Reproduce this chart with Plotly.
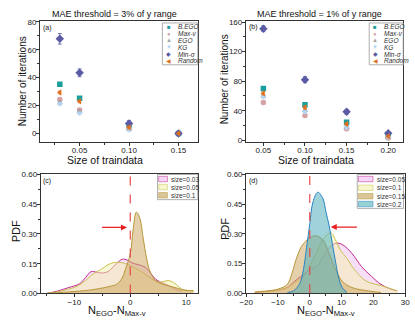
import plotly.graph_objects as go
from plotly.subplots import make_subplots

W, H = 415, 326
FONT = "Liberation Sans, Arial, sans-serif"

# ---- panel (a): MAE threshold = 3% of y range
size_a = [0.03, 0.05, 0.10, 0.15]
bego_a = [35.3, 25.3, 4.5, 0.0]
maxv_a = [24.3, 16.8, 3.5, 0.0]
ego_a = [22.0, 15.5, 3.0, 0.0]
kg_a = [21.1, 14.4, 2.5, 0.0]
minsig_a = [67.9, 43.5, 7.2, 0.0]
random_a = [29.4, 23.0, 4.3, 0.0]
err_a = [1.0, 1.0, 1.0, 0.0]
err_minsig_a = [3.8, 2.8, 2.0, 0.0]

# ---- panel (b): MAE threshold = 1% of y range
size_b = [0.05, 0.10, 0.15, 0.20]
bego_b = [70.0, 48.0, 24.5, 6.0]
maxv_b = [51.0, 33.5, 15.5, 3.0]
ego_b = [60.0, 40.0, 18.0, 4.0]
kg_b = [58.5, 38.5, 17.0, 4.0]
minsig_b = [151.0, 82.0, 38.5, 9.5]
random_b = [63.5, 44.5, 22.0, 5.5]
err_b = [2.0, 2.0, 1.5, 1.0]
err_minsig_b = [4.0, 4.0, 3.0, 1.5]

methods = ["B.EGO", "Max-v", "EGO", "KG", "Min-σ", "Random"]
colors = ["#1b9e9e", "#d6a2a6", "#a3a3a3", "#b5d5f5", "#5b5ba5", "#e0701e"]
symbols = ["square", "circle", "triangle-up", "triangle-down", "diamond", "triangle-left"]
glyphs = ["■", "●", "▲", "▼", "◆", "◀"]

# ---- panel (c): PDF of N_EGO - N_Max-v
c03_x = [-15, -13, -11, -10, -9, -8, -7, -6, -5, -4, -3, -2, -1.4, -0.5, 0.5, 1.5, 2.8, 3.7, 4.6, 6, 7, 8, 9.2]
c03_y = [0, 0.012, 0.03, 0.038, 0.05, 0.08, 0.11, 0.107, 0.103, 0.11, 0.135, 0.162, 0.173, 0.168, 0.152, 0.145, 0.13, 0.1, 0.07, 0.05, 0.038, 0.022, 0.01]
c05_x = [-15, -13, -11, -10, -9, -8, -7, -6, -5.3, -4, -3, -2, -1, 0, 1, 2, 3, 4.6, 5.5, 6.9, 8, 9.2, 10.3, 11.3]
c05_y = [0, 0.008, 0.022, 0.03, 0.045, 0.065, 0.09, 0.11, 0.12, 0.145, 0.155, 0.157, 0.152, 0.14, 0.125, 0.11, 0.09, 0.062, 0.058, 0.065, 0.05, 0.022, 0.015, 0.015]
c10_x = [-15, -13, -11, -9, -7, -5.5, -4.5, -3.5, -2.4, -1.5, -0.9, 0, 0.5, 1.1, 1.7, 2.3, 2.9, 3.4, 4, 4.6, 5.5, 6.9, 8, 9.2, 10.3, 11.3]
c10_y = [0, 0.004, 0.008, 0.012, 0.018, 0.025, 0.03, 0.037, 0.047, 0.075, 0.12, 0.2, 0.32, 0.41, 0.38, 0.28, 0.18, 0.12, 0.085, 0.062, 0.05, 0.038, 0.03, 0.02, 0.015, 0.013]

# ---- panel (d)
d05_x = [-17.3, -16.3, -10, -7.1, -4.1, -2, 0, 2.5, 4.1, 6.1, 8.2, 10.2, 13.3, 16.3, 19.4, 22.4, 25.5, 27.5]
d05_y = [0.003, 0.005, 0.015, 0.028, 0.069, 0.093, 0.118, 0.14, 0.18, 0.23, 0.252, 0.246, 0.2, 0.134, 0.085, 0.044, 0.02, 0.011]
d10_x = [-17.3, -16.3, -10, -7.1, -4.1, -2, 0, 2, 4.1, 6.6, 8.2, 9.7, 11.7, 14, 17.8, 22.9, 27.5]
d10_y = [0.003, 0.005, 0.015, 0.028, 0.061, 0.085, 0.134, 0.2, 0.27, 0.305, 0.265, 0.215, 0.175, 0.12, 0.06, 0.036, 0.011]
d15_x = [-17.3, -16.3, -10, -7.1, -5.6, -4, -2, 1.5, 4.1, 6.1, 8.2, 10.2, 13.3, 18.4, 22.4]
d15_y = [0.005, 0.007, 0.02, 0.044, 0.1, 0.185, 0.25, 0.29, 0.27, 0.2, 0.118, 0.06, 0.028, 0.011, 0.003]
d20_x = [-7, -5.1, -3.1, -2, -1, 0, 1, 2.5, 4.1, 5.1, 6.1, 7.1, 8.2, 9.2, 10.2, 11.7]
d20_y = [0.003, 0.011, 0.05, 0.118, 0.23, 0.35, 0.46, 0.51, 0.48, 0.41, 0.34, 0.25, 0.15, 0.07, 0.028, 0.003]

fig = make_subplots(rows=2, cols=2)


def px(x):
    return x / W


def py(y):
    return 1 - y / H


series_a = [bego_a, maxv_a, ego_a, kg_a, minsig_a, random_a]
series_b = [bego_b, maxv_b, ego_b, kg_b, minsig_b, random_b]
for i, name in enumerate(methods):
    ea = err_minsig_a if name == "Min-σ" else err_a
    eb = err_minsig_b if name == "Min-σ" else err_b
    for col, xs, ys, ee in [(1, size_a, series_a[i], ea), (2, size_b, series_b[i], eb)]:
        fig.add_trace(go.Scatter(
            x=xs, y=ys, mode="markers", name=name, showlegend=False,
            marker=dict(symbol=symbols[i], color=colors[i], size=5.5 if name != "Min-σ" else 6.5),
            error_y=dict(type="data", array=ee, color=colors[i], thickness=0.8, width=2)),
            row=1, col=col)

# density curves
kde_c = [("size=0.03", c03_x, c03_y, "#c0288c", "rgba(240,185,240,0.45)", "rgba(246,214,246,1)"),
         ("size=0.05", c05_x, c05_y, "#c8c050", "rgba(242,240,170,0.5)", "rgba(248,246,204,1)"),
         ("size=0.1", c10_x, c10_y, "#b8963a", "rgba(205,170,100,0.55)", "rgba(218,198,152,1)")]
kde_d = [("size=0.05", d05_x, d05_y, "#c0288c", "rgba(240,185,240,0.45)", "rgba(246,214,246,1)"),
         ("size=0.1", d10_x, d10_y, "#c8c050", "rgba(242,240,170,0.5)", "rgba(248,246,204,1)"),
         ("size=0.15", d15_x, d15_y, "#b8963a", "rgba(205,170,100,0.55)", "rgba(218,198,152,1)"),
         ("size=0.2", d20_x, d20_y, "#2a82c0", "rgba(80,175,185,0.55)", "rgba(150,210,212,1)")]
for col, kdes in [(1, kde_c), (2, kde_d)]:
    for name, xs, ys, lc, fc, sw in kdes:
        fig.add_trace(go.Scatter(
            x=xs, y=ys, mode="lines", name=name, showlegend=False,
            line=dict(color=lc, width=1, shape="spline", smoothing=1.0),
            fill="tozeroy", fillcolor=fc), row=2, col=col)

# domains (pixels -> paper)
doms = {
    "xaxis": (34, 197), "yaxis": (17, 141.7),
    "xaxis2": (246, 408), "yaxis2": (17, 141.7),
    "xaxis3": (34.7, 196.7), "yaxis3": (175.3, 297.7),
    "xaxis4": (246.3, 410), "yaxis4": (175.3, 297.3),
}
axis_common = dict(showline=True, mirror=True, linecolor="#333", linewidth=1,
                   ticks="outside", ticklen=3, tickwidth=1, tickcolor="#333",
                   showgrid=False, zeroline=False, ticklabelstandoff=-2,
                   tickfont=dict(size=8, family=FONT, color="#222"))
for k, (a, b) in doms.items():
    if k.startswith("x"):
        fig.layout[k].update(domain=[px(a), px(b)], **axis_common)
    else:
        fig.layout[k].update(domain=[py(b), py(a)], **axis_common)

minor = dict(ticks="outside", ticklen=2, tickcolor="#333")
fig.update_layout(
    xaxis=dict(range=[0.01, 0.17], dtick=0.05, tick0=0, tickformat=".2f", minor=dict(dtick=0.025, **minor)),
    yaxis=dict(range=[-6, 81], dtick=20, minor=dict(dtick=10, **minor)),
    xaxis2=dict(range=[0.029, 0.218], dtick=0.05, tick0=0, tickformat=".2f", minor=dict(dtick=0.025, **minor)),
    yaxis2=dict(range=[-2, 162], dtick=40, minor=dict(dtick=20, **minor)),
    xaxis3=dict(range=[-16, 12.1], dtick=10, tick0=0, minor=dict(dtick=5, **minor)),
    yaxis3=dict(range=[0, 0.6], dtick=0.15, tickformat=".2f", minor=dict(dtick=0.075, **minor)),
    xaxis4=dict(range=[-20, 30], dtick=10, tick0=0, minor=dict(dtick=5, **minor)),
    yaxis4=dict(range=[0, 0.6], dtick=0.15, tickformat=".2f", minor=dict(dtick=0.075, **minor)),
)

shapes = []
annotations = []


def text(x, y, s, size, angle=0, xanchor="center", italic=False, color="#111"):
    annotations.append(dict(
        x=px(x), y=py(y), xref="paper", yref="paper", text=s, showarrow=False,
        xanchor=xanchor, yanchor="middle", textangle=angle,
        font=dict(size=size, family=FONT, color=color, style="italic" if italic else "normal")))


# titles and axis titles
text(111, 10.5, "MAE threshold = 3% of y range", 9)
text(322, 10.5, "MAE threshold = 1% of y range", 9)
text(16, 80, "Number of iterations", 10, angle=-90)
text(224, 78, "Number of iterations", 10, angle=-90)
text(101, 160, "Size of traindata", 10.5)
text(318, 160, "Size of traindata", 10.5)
text(9, 234, "PDF", 11, angle=-90)
text(224, 232, "PDF", 11, angle=-90)
text(113, 316, "N<sub>EGO</sub>-N<sub>Max-v</sub>", 11)
text(328, 316, "N<sub>EGO</sub>-N<sub>Max-v</sub>", 11)
text(35, 25, "(a)", 7, xanchor="left")
text(247, 24, "(b)", 7, xanchor="left")
text(35, 182, "(c)", 7, xanchor="left")
text(247, 182, "(d)", 7, xanchor="left")

# marker legends for (a) and (b)
for (x0, x1, sx, tx) in [(160, 196.5, 166.5, 174), (373, 408, 379, 386.5)]:
    shapes.append(dict(type="rect", xref="paper", yref="paper", x0=px(x0), x1=px(x1),
                       y0=py(62.5), y1=py(19.5), line=dict(color="#999", width=0.8),
                       fillcolor="white"))
    for i, name in enumerate(methods):
        yy = 23.5 + 7 * i
        text(sx, yy, f"<span style='color:{colors[i]}'>{glyphs[i]}</span>", 6)
        text(tx, yy, name, 6.5, xanchor="left", italic=True, color="#333")

# swatch legends for (c) and (d)
for (x0, x1, rows, kdes) in [(155, 196.5, [180, 188.3, 196.7], kde_c),
                             (360.7, 408.3, [180, 189, 197.7, 205.7], kde_d)]:
    y_bot = rows[-1] + 4.5
    shapes.append(dict(type="rect", xref="paper", yref="paper", x0=px(x0), x1=px(x1),
                       y0=py(y_bot), y1=py(175.3), line=dict(color="#999", width=0.8),
                       fillcolor="white"))
    sw_w = 9 if len(rows) == 3 else 15
    for yy, (name, _, _, lc, fc, sw) in zip(rows, kdes):
        shapes.append(dict(type="rect", xref="paper", yref="paper",
                           x0=px(x0 + 1.2), x1=px(x0 + 1.2 + sw_w), y0=py(yy + 2.8), y1=py(yy - 2.8),
                           line=dict(color=lc, width=0.5), fillcolor=sw))
        text(x0 + 3 + sw_w, yy, name, 6.5, xanchor="left", color="#333")

# dashed zero lines and arrows
for xr, yr in [("x3", "y3"), ("x4", "y4")]:
    shapes.append(dict(type="line", xref=xr, yref=yr, x0=0, x1=0, y0=0, y1=0.6,
                       line=dict(color="#e84a4a", width=1.2, dash="dash"), layer="above"))
fig.add_annotation(x=-0.6, y=0.333, ax=-5.3, ay=0.333, xref="x3", yref="y3", axref="x3", ayref="y3",
                   text="", showarrow=True, arrowhead=2, arrowsize=1, arrowwidth=1.2, arrowcolor="#e82020")
fig.add_annotation(x=6.6, y=0.334, ax=15.3, ay=0.334, xref="x4", yref="y4", axref="x4", ayref="y4",
                   text="", showarrow=True, arrowhead=2, arrowsize=1, arrowwidth=1.2, arrowcolor="#e82020")

fig.update_layout(shapes=shapes)
for a in annotations:
    fig.add_annotation(**a)

fig.update_layout(width=W, height=H, margin=dict(l=0, r=0, t=0, b=0),
                  paper_bgcolor="white", plot_bgcolor="white", showlegend=False,
                  font=dict(family=FONT, color="#222"))
# the page body has an 8px margin by default; drop it so the figure fills the window
fig.write_html("out.html", config={"displayModeBar": False},
               post_script="document.body.style.margin='0';")
